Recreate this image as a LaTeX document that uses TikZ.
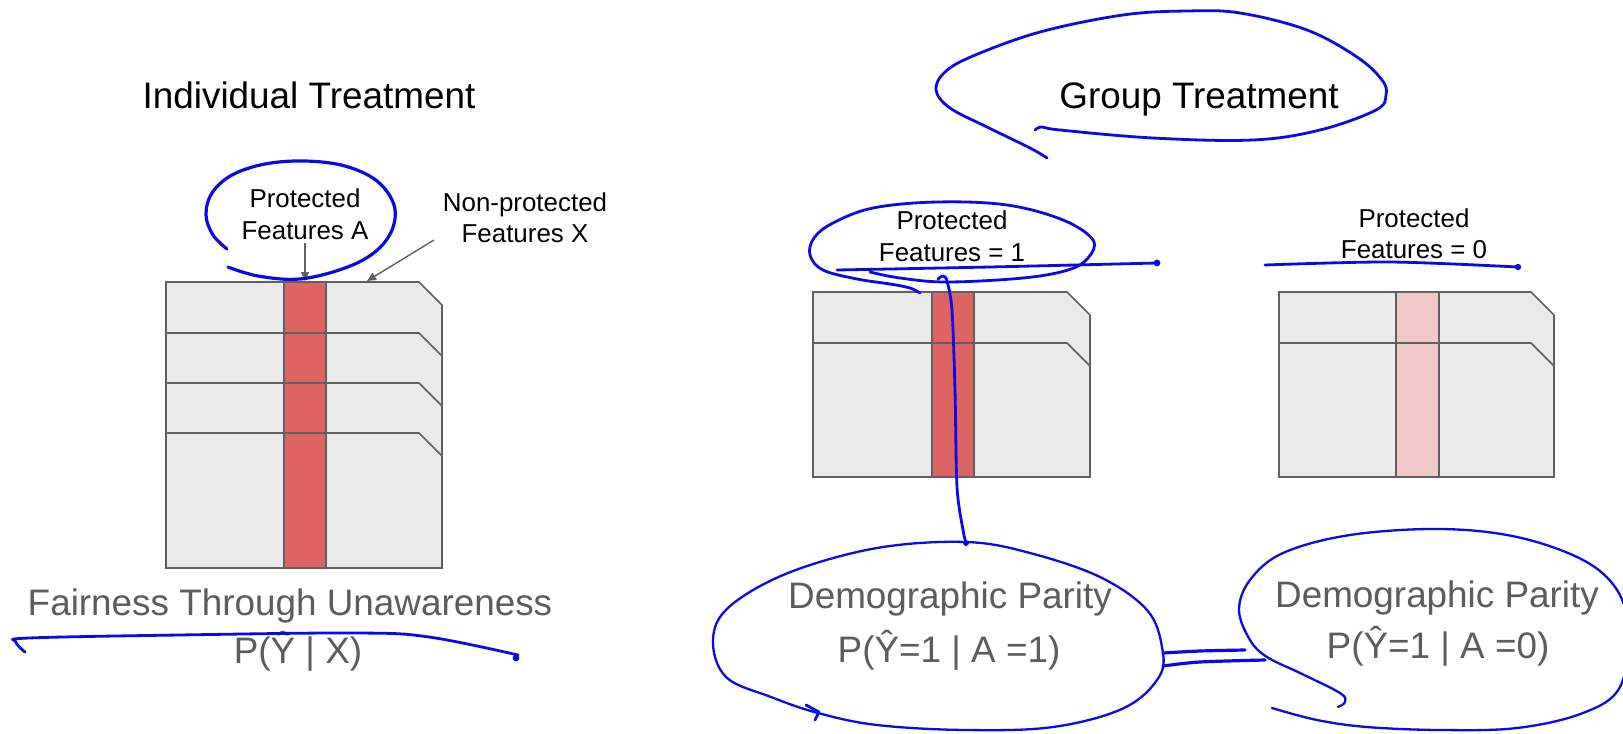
\documentclass[tikz,border=0pt]{standalone}
\usepackage{fontspec}
\setmainfont{Liberation Sans}
\usetikzlibrary{arrows.meta}
\definecolor{ink}{RGB}{10,10,232}
\definecolor{sheetgray}{HTML}{EAEAEA}
\definecolor{edgegray}{HTML}{606060}
\definecolor{redcol}{HTML}{DE6464}
\definecolor{pinkcol}{HTML}{F1C9C9}
\definecolor{softtext}{HTML}{5C5C5C}
\begin{document}
\begin{tikzpicture}[x=1bp,y=-1bp,
  sheetbox/.style={fill=sheetgray, draw=edgegray, line width=1.6bp, line join=miter},
  colbox/.style={draw=edgegray, line width=1.6bp},
  rowline/.style={draw=edgegray, line width=1.6bp},
  grayarrow/.style={draw=edgegray, line width=1.4bp, -{Triangle[length=9bp,width=8bp]}},
  titletext/.style={inner sep=0pt, anchor=base, font=\fontsize{37}{44}\selectfont},
  smalltext/.style={inner sep=0pt, anchor=base, font=\fontsize{26}{31}\selectfont},
  bigtext/.style={inner sep=0pt, anchor=base, text=softtext, font=\fontsize{37}{44}\selectfont},
  inkline/.style={draw=ink, line width=2.8bp, line cap=round, line join=round},
  inkthin/.style={draw=ink, line width=2.3bp, line cap=round, line join=round}
]
\clip (0,0) rectangle (1623,734);
\fill[white] (0,0) rectangle (1623,734);

% ---------- left table ----------
\draw[sheetbox] (166,282) -- (419,282) -- (442,305) -- (442,568) -- (166,568) -- cycle;
\draw[colbox, fill=redcol] (284,282) rectangle (326,568);
\foreach \yy in {333,383,433} \draw[rowline] (166,\yy) -- (419,\yy) -- (442,\yy+23);

% ---------- group table 1 ----------
\draw[sheetbox] (813,292) -- (1067,292) -- (1090,315) -- (1090,477) -- (813,477) -- cycle;
\draw[colbox, fill=redcol] (932,292) rectangle (974,477);
\draw[rowline] (813,343) -- (1067,343) -- (1090,366);

% ---------- group table 2 ----------
\draw[sheetbox] (1279,292) -- (1531,292) -- (1554,315) -- (1554,477) -- (1279,477) -- cycle;
\draw[colbox, fill=pinkcol] (1396,292) rectangle (1439,477);
\draw[rowline] (1279,343) -- (1531,343) -- (1554,366);

% ---------- texts ----------
\node[titletext] (indT) at (309,109) {Individual Treatment};
\node[titletext] (grpT) at (1199,109) {Group Treatment};
\node[smalltext] (pa1) at (305,207) {Protected};
\node[smalltext] (pa2) at (305,239) {Features A};
\node[smalltext] (np1) at (525,211) {Non-protected};
\node[smalltext] (np2) at (525,242) {Features X};
\node[smalltext] (p11) at (952,229) {Protected};
\node[smalltext] (p12) at (952,261) {Features = 1};
\node[smalltext] (p01) at (1414,227) {Protected};
\node[smalltext] (p02) at (1414,258) {Features = 0};
\node[bigtext] (ftu1) at (290,615) {Fairness Through Unawareness};
\node[bigtext] (ftu2) at (298,663) {P(Ŷ | X)};
\node[bigtext] (dp11) at (950,608) {Demographic Parity};
\node[bigtext] (dp12) at (949,662) {P(Ŷ=1 | A =1)};
\node[bigtext] (dp01) at (1437,607) {Demographic Parity};
\node[bigtext] (dp02) at (1438,658) {P(Ŷ=1 | A =0)};

% ---------- gray arrows ----------
\coordinate (tipA) at (305,281);
\coordinate (tailX) at (434,240);
\coordinate (tipX) at (367,281);
\draw[grayarrow, shorten <=4bp] (pa2.south) -- (tipA);
\draw[grayarrow] (tailX) -- (tipX);

% ---------- blue ink annotations ----------
% circle around Protected Features A
\draw[inkline, line width=3.2bp] plot[smooth, tension=0.6] coordinates {
  (227,249) (213,235) (206,215) (212,193) (232,175) (265,164) (305,161)
  (345,166) (377,181) (394,205) (392,230) (375,252) (345,268) (300,279)
  (258,276) (228,267)};

% bubble around Group Treatment
\draw[inkline] plot[smooth, tension=0.6] coordinates {
  (1047,158) (1030,148) (987,127) (950,108) (936,90) (945,72) (973,56)
  (1040,32) (1123,15) (1187,11) (1240,13) (1307,30) (1357,57) (1382,80)
  (1386,95) (1376,110) (1320,130) (1253,140) (1153,138) (1060,130)
  (1042,127) (1035,130)};

% loop around Protected Features = 1
\draw[inkline] plot[smooth, tension=0.6] coordinates {
  (920,293) (910,288) (890,284) (857,279) (823,270) (810,255) (814,238)
  (833,223) (873,208) (937,202) (1007,205) (1063,220) (1093,240)
  (1088,258) (1068,270) (1023,278) (947,282) (900,278) (870,272)};

% underlines
\draw[inkline] plot[smooth] coordinates {(837,270) (990,267) (1157,263)};
\fill[ink] (1157,263) circle (3.4bp);
\draw[inkline] plot[smooth] coordinates {(1265,265) (1390,262) (1518,267)};
\fill[ink] (1518,267) circle (3.2bp);
\draw[inkline] plot[smooth, tension=0.6] coordinates {
  (25,652) (16,642) (29,638) (179,635) (357,633) (429,637) (518,655)};
\fill[ink] (516,658) circle (3.4bp);

% vertical stroke down to the first Demographic Parity
\draw[inkline] plot[smooth, tension=0.5] coordinates {
  (938,279) (943,276) (947,281) (952,310) (955,390) (957,487) (963,530) (966,543)};
\fill[ink] (966,543) circle (3bp);

% ellipse around Demographic Parity (A=1)
\draw[inkthin] plot[smooth cycle, tension=0.6] coordinates {
  (966,542) (877,548) (788,573) (729,607) (713,640) (726,677) (771,697)
  (818,713) (877,725) (965,730) (1053,727) (1124,708) (1159,677)
  (1162,647) (1147,610) (1100,577) (1030,553)};
\draw[inkline] (806,705) -- (819,712) -- (815,720);

% ellipse around Demographic Parity (A=0)
\draw[inkthin] plot[smooth, tension=0.6] coordinates {
  (1338,707) (1345,702) (1340,693) (1300,673) (1267,657) (1250,640)
  (1239,610) (1250,580) (1283,553) (1350,535) (1440,529) (1517,537)
  (1583,560) (1617,590) (1628,630) (1620,687) (1583,713) (1517,728)
  (1440,730) (1367,727) (1317,720) (1272,708)};

% equals sign between the two parities
\draw[inkline, line width=3.2bp] plot[smooth] coordinates {(1163,653) (1200,651) (1245,650)};
\draw[inkline, line width=3.2bp] plot[smooth] coordinates {(1163,666) (1200,662) (1265,660)};
\end{tikzpicture}
\end{document}
